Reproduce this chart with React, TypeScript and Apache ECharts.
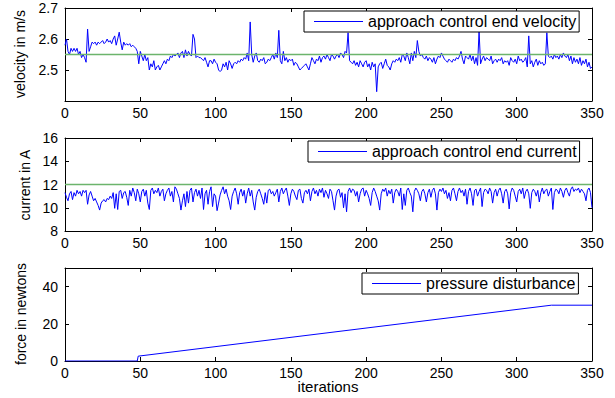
import React, { useEffect, useRef } from "react";
import * as echarts from "echarts";

const xTicks = [0, 50, 100, 150, 200, 250, 300, 350];

const velocity = [
  2.58, 2.60, 2.56, 2.55, 2.57, 2.56, 2.57, 2.56, 2.57, 2.55,
  2.56, 2.54, 2.55, 2.54, 2.525, 2.632, 2.56, 2.575, 2.59, 2.585,
  2.59, 2.58, 2.59, 2.585, 2.59, 2.595, 2.585, 2.59, 2.60, 2.59,
  2.595, 2.585, 2.60, 2.61, 2.58, 2.60, 2.622, 2.59, 2.565, 2.59,
  2.58, 2.585, 2.58, 2.585, 2.575, 2.58, 2.575, 2.57, 2.56, 2.52,
  2.56, 2.545, 2.53, 2.55, 2.53, 2.54, 2.50, 2.52, 2.51, 2.53,
  2.50, 2.51, 2.515, 2.50, 2.51, 2.52, 2.53, 2.52, 2.535, 2.53,
  2.545, 2.54, 2.55, 2.545, 2.55, 2.555, 2.54, 2.555, 2.56, 2.54,
  2.565, 2.545, 2.56, 2.55, 2.545, 2.615, 2.60, 2.54, 2.545, 2.54,
  2.54, 2.535, 2.53, 2.54, 2.525, 2.51, 2.53, 2.53, 2.52, 2.535,
  2.525, 2.52, 2.50, 2.495, 2.50, 2.52, 2.51, 2.525, 2.50, 2.53,
  2.52, 2.505, 2.52, 2.525, 2.52, 2.53, 2.525, 2.535, 2.53, 2.54,
  2.535, 2.555, 2.53, 2.655, 2.55, 2.525, 2.545, 2.555, 2.53, 2.525,
  2.535, 2.53, 2.54, 2.52, 2.525, 2.535, 2.53, 2.54, 2.55, 2.535,
  2.555, 2.54, 2.628, 2.53, 2.52, 2.56, 2.53, 2.54, 2.525, 2.535,
  2.53, 2.535, 2.515, 2.525, 2.52, 2.51, 2.50, 2.505, 2.51, 2.515,
  2.52, 2.51, 2.50, 2.52, 2.54, 2.53, 2.52, 2.535, 2.53, 2.545,
  2.525, 2.54, 2.545, 2.535, 2.55, 2.54, 2.53, 2.55, 2.545, 2.535,
  2.545, 2.55, 2.54, 2.555, 2.55, 2.54, 2.56, 2.555, 2.62, 2.53,
  2.525, 2.52, 2.53, 2.515, 2.525, 2.51, 2.53, 2.52, 2.51, 2.525,
  2.53, 2.51, 2.52, 2.50, 2.525, 2.51, 2.52, 2.43, 2.51, 2.52,
  2.525, 2.505, 2.52, 2.535, 2.515, 2.51, 2.50, 2.52, 2.53, 2.525,
  2.535, 2.53, 2.54, 2.525, 2.55, 2.545, 2.53, 2.555, 2.54, 2.52,
  2.555, 2.53, 2.56, 2.54, 2.595, 2.56, 2.545, 2.55, 2.54, 2.535,
  2.545, 2.53, 2.54, 2.535, 2.525, 2.54, 2.52, 2.535, 2.545, 2.54,
  2.555, 2.545, 2.535, 2.53, 2.525, 2.535, 2.53, 2.525, 2.535, 2.53,
  2.54, 2.535, 2.545, 2.56, 2.535, 2.52, 2.545, 2.54, 2.535, 2.55,
  2.53, 2.545, 2.52, 2.54, 2.515, 2.625, 2.52, 2.535, 2.545, 2.53,
  2.54, 2.535, 2.53, 2.545, 2.52, 2.53, 2.535, 2.525, 2.535, 2.53,
  2.54, 2.52, 2.53, 2.525, 2.53, 2.515, 2.54, 2.53, 2.525, 2.535,
  2.52, 2.545, 2.53, 2.535, 2.525, 2.53, 2.54, 2.51, 2.61, 2.52,
  2.53, 2.51, 2.525, 2.535, 2.515, 2.53, 2.52, 2.525, 2.515, 2.52,
  2.62, 2.545, 2.54, 2.545, 2.535, 2.55, 2.54, 2.545, 2.535, 2.55,
  2.54, 2.555, 2.545, 2.54, 2.55, 2.53, 2.545, 2.52, 2.54, 2.525,
  2.535, 2.52, 2.54, 2.515, 2.53, 2.52, 2.535, 2.51, 2.525, 2.505,
  2.51,
];

const current = [
  11.3, 10.9, 10.6, 11.2, 11.4, 10.7, 11.3, 11.0, 11.5, 11.2,
  11.4, 11.0, 11.5, 11.3, 11.5, 10.3, 11.1, 11.4, 11.0, 10.6,
  10.8, 10.5, 10.2, 9.8, 10.4, 10.6, 10.7, 10.5, 10.8, 10.7,
  11.0, 10.8, 11.3, 9.95, 11.2, 9.85, 11.4, 11.5, 10.8, 11.3,
  11.4, 10.9, 10.2, 11.5, 11.0, 11.7, 11.3, 10.6, 11.6, 11.2,
  10.5, 11.4, 11.6, 11.0, 11.5, 10.4, 9.85, 11.5, 11.7, 11.2,
  11.5, 11.3, 11.7, 11.0, 11.4, 11.6, 10.6, 11.2, 11.5, 11.7,
  11.0, 11.4, 10.5, 11.8, 11.6, 11.2, 10.8, 9.8, 10.6, 11.2,
  10.1, 11.4, 10.4, 11.5, 11.7, 10.5, 11.3, 11.6, 11.0, 11.5,
  10.8, 11.7, 9.85, 11.2, 11.5, 10.3, 11.4, 11.8, 10.1, 11.2,
  11.0, 9.75, 10.4, 11.1, 11.5, 11.8, 11.2, 11.6, 11.0, 10.6,
  9.85, 11.0, 11.4, 11.7, 11.2, 10.3, 11.3, 11.6, 11.0, 11.5,
  10.4, 11.2, 11.7, 11.0, 11.5, 10.5, 9.8, 10.9, 11.4, 11.6,
  11.2, 10.8, 10.3, 11.3, 10.4, 11.5, 11.6, 11.2, 11.4, 11.0,
  11.3, 11.6, 10.5, 11.4, 11.7, 11.2, 11.5, 11.7, 11.0, 10.2,
  11.2, 11.6, 11.4, 11.0, 10.7, 11.5, 11.6, 10.8, 10.4, 11.3,
  11.5, 11.2, 11.6, 10.6, 11.4, 11.7, 11.2, 11.5, 11.0, 11.6,
  11.3, 11.7, 10.9, 11.5, 11.2, 10.8, 11.6, 11.4, 10.6, 9.8,
  11.0, 11.5, 11.6, 10.9, 11.3, 10.0, 11.2, 9.65, 11.4, 11.7,
  11.3, 11.6, 11.5, 11.0, 11.4, 10.5, 11.2, 11.6, 11.7, 11.0,
  11.5, 11.2, 10.8, 10.2, 11.3, 11.7, 11.4, 11.0, 10.6, 9.8,
  11.2, 11.6, 11.4, 11.7, 11.0, 11.5, 11.2, 11.6, 10.4, 11.3,
  11.6, 11.4, 11.0, 11.7, 9.85, 11.2, 10.2, 11.5, 11.7, 11.3,
  11.0, 9.65, 11.4, 11.7, 11.5, 11.2, 10.6, 11.4, 11.6, 11.2,
  10.5, 11.3, 11.6, 10.9, 11.5, 11.7, 11.2, 9.8, 11.3, 11.6,
  11.4, 11.7, 11.2, 11.5, 10.8, 11.3, 10.6, 11.5, 11.7, 11.2,
  10.6, 11.4, 11.7, 11.3, 11.5, 11.0, 11.6, 10.3, 11.4, 11.7,
  11.2, 10.2, 11.5, 11.6, 11.0, 11.4, 11.7, 10.1, 11.3, 11.6,
  11.5, 11.2, 11.7, 11.4, 10.4, 11.3, 11.6, 11.0, 11.5, 11.7,
  11.2, 10.4, 11.4, 11.6, 11.2, 9.9, 11.3, 11.7, 11.5, 11.0,
  10.5, 11.4, 11.6, 11.2, 11.7, 10.8, 11.4, 11.6, 11.2, 9.95,
  11.3, 11.6, 11.4, 11.0, 11.5, 10.5, 11.3, 11.7, 11.2, 11.5,
  11.6, 11.0, 11.4, 11.7, 9.85, 11.3, 11.6, 11.5, 11.2, 11.7,
  11.4, 10.9, 11.5, 11.7, 11.3, 11.0, 11.6, 11.8, 11.4, 11.6,
  11.5, 11.7, 11.3, 11.6, 11.4, 11.2, 10.6, 11.5, 11.7, 11.3,
  10.0,
];

// breakpoints of the pressure disturbance (iteration, force)
const forceX = [0, 48, 48.6, 323, 350];
const forceY = [0, 0, 2.6, 30, 30];

const velocityRef = 2.55;
const currentRef = 12;

const FONT = "Liberation Sans";

export default function App() {
  const ref = useRef<HTMLDivElement>(null);
  useEffect(() => {
    if (!ref.current) return;
    const chart = echarts.init(ref.current, null, { renderer: "svg" });

    const grids = [
      { left: 65, top: 8, width: 527, height: 93 },
      { left: 65, top: 138, width: 527, height: 93 },
      { left: 65, top: 268, width: 527, height: 93 },
    ];
    const yRanges = [
      { min: 2.4, max: 2.7, interval: 0.1, fmt: (v: number) => (v < 2.45 ? "" : v.toFixed(1)) },
      { min: 8, max: 16, interval: 2, fmt: (v: number) => String(v) },
      { min: 0, max: 50, interval: 20, fmt: (v: number) => (v > 45 ? "" : String(v)) },
    ];
    const axisLine = { show: true, onZero: false, lineStyle: { color: "#000", width: 1 } };
    const axisTick = { show: true, inside: true, length: 4, lineStyle: { color: "#000" } };

    const xAxis: any[] = [];
    const yAxis: any[] = [];
    grids.forEach((_, i) => {
      xAxis.push({
        type: "value", gridIndex: i, min: xTicks[0], max: xTicks[xTicks.length - 1], interval: 50, position: "bottom",
        axisLine, axisTick, splitLine: { show: false },
        axisLabel: { fontSize: 14, color: "#000", fontFamily: FONT, margin: 5 },
      });
      xAxis.push({
        type: "value", gridIndex: i, min: xTicks[0], max: xTicks[xTicks.length - 1], interval: 50, position: "top",
        axisLine, axisTick, splitLine: { show: false }, axisLabel: { show: false },
      });
      const r = yRanges[i];
      yAxis.push({
        type: "value", gridIndex: i, min: r.min, max: r.max, interval: r.interval, position: "left",
        axisLine, axisTick, splitLine: { show: false },
        axisLabel: { fontSize: 14, color: "#000", fontFamily: FONT, margin: 7, formatter: r.fmt },
      });
      yAxis.push({
        type: "value", gridIndex: i, min: r.min, max: r.max, interval: r.interval, position: "right",
        axisLine, axisTick, splitLine: { show: false }, axisLabel: { show: false },
      });
    });

    const blue = { color: "#0000ff", width: 1 };
    const green = { color: "#6cb46c", width: 1.6 };

    const legendBase = {
      orient: "horizontal",
      icon: "rect",
      itemWidth: 49,
      itemHeight: 1,
      borderColor: "#000",
      borderWidth: 1,
      backgroundColor: "#fff",
      borderRadius: 0,
      padding: [2, 3, 2, 10],
      textStyle: { fontSize: 16, color: "#000", fontFamily: FONT, lineHeight: 17 },
    };

    const option: any = {
      animation: false,
      backgroundColor: "#fff",
      grid: grids,
      xAxis,
      yAxis,
      legend: [
        { ...legendBase, left: 304, top: 11, data: ["approach control end velocity"] },
        { ...legendBase, left: 308, top: 141, data: ["approach control end current"] },
        { ...legendBase, left: 362, top: 273, data: ["pressure disturbance"] },
      ],
      series: [
        {
          name: "approach control end velocity", type: "line", xAxisIndex: 0, yAxisIndex: 0,
          symbol: "none", lineStyle: blue, itemStyle: { color: "#0000ff" },
          data: velocity.map((v, i) => [i, v]),
        },
        {
          name: "velocity reference", type: "line", xAxisIndex: 0, yAxisIndex: 0,
          symbol: "none", lineStyle: green, itemStyle: { color: green.color }, silent: true,
          data: [[0, velocityRef], [350, velocityRef]],
        },
        {
          name: "approach control end current", type: "line", xAxisIndex: 2, yAxisIndex: 2,
          symbol: "none", lineStyle: blue, itemStyle: { color: "#0000ff" },
          data: current.map((v, i) => [i, v]),
        },
        {
          name: "current reference", type: "line", xAxisIndex: 2, yAxisIndex: 2,
          symbol: "none", lineStyle: green, itemStyle: { color: green.color }, silent: true,
          data: [[0, currentRef], [350, currentRef]],
        },
        {
          name: "pressure disturbance", type: "line", xAxisIndex: 4, yAxisIndex: 4,
          symbol: "none", lineStyle: blue, itemStyle: { color: "#0000ff" },
          data: forceX.map((x, i) => [x, forceY[i]]),
        },
      ],
      graphic: [
        {
          type: "text", x: 20, y: 54, rotation: Math.PI / 2,
          style: { text: "velocity in m/s", fontSize: 14, fontFamily: FONT, fill: "#000", textAlign: "center", textVerticalAlign: "middle" },
        },
        {
          type: "text", x: 25, y: 185, rotation: Math.PI / 2,
          style: { text: "current in A", fontSize: 14, fontFamily: FONT, fill: "#000", textAlign: "center", textVerticalAlign: "middle" },
        },
        {
          type: "text", x: 21, y: 314, rotation: Math.PI / 2,
          style: { text: "force in newtons", fontSize: 14, fontFamily: FONT, fill: "#000", textAlign: "center", textVerticalAlign: "middle" },
        },
        {
          type: "text", x: 328, y: 386,
          style: { text: "iterations", fontSize: 15, fontFamily: FONT, fill: "#000", textAlign: "center", textVerticalAlign: "middle" },
        },
      ],
    };
    chart.setOption(option);
    return () => chart.dispose();
  }, []);
  return (
    <div
      ref={ref}
      style={{ position: "fixed", left: 0, top: 0, width: 615, height: 398, background: "#fff" }}
    />
  );
}
